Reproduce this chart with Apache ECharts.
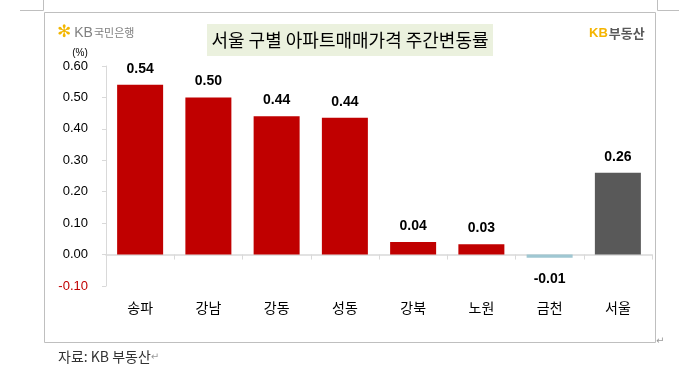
<!DOCTYPE html>
<html><head><meta charset="utf-8">
<script src="https://cdn.jsdelivr.net/npm/echarts@6/dist/echarts.min.js"></script>
<style>html,body{margin:0;padding:0;background:#fff}#c{width:679px;height:375px}</style>
</head><body><div id="c"></div>
<script>
const categories = ['송파','강남','강동','성동','강북','노원','금천','서울'];
const values = [0.54, 0.50, 0.44, 0.435, 0.04, 0.033, -0.01, 0.26];
const valueLabels = ['0.54','0.50','0.44','0.44','0.04','0.03','-0.01','0.26'];
const barColors = ['#C00000','#C00000','#C00000','#C00000','#C00000','#C00000','#9FC7D2','#595959'];
const yTicks = [-0.1, 0, 0.1, 0.2, 0.3, 0.4, 0.5, 0.6];

const chart = echarts.init(document.getElementById('c'));
const KR = '"Noto Sans CJK KR", "Noto Sans", sans-serif';
chart.setOption({
  animation: false,
  grid: {left: 106, right: 27, top: 66, bottom: 89},
  xAxis: {
    type: 'category', data: categories,
    axisLine: {onZero: true, lineStyle: {color: '#D9D9D9', width: 1.5}},
    axisTick: {show: true, length: 5, lineStyle: {color: '#D9D9D9'}},
    axisLabel: {margin: 15, fontSize: 14, color: '#000', fontFamily: KR}
  },
  yAxis: {
    type: 'value', min: -0.1, max: 0.6, interval: 0.1,
    splitLine: {show: false},
    axisLine: {show: true, lineStyle: {color: '#D9D9D9', width: 1}},
    axisTick: {show: true, length: 4, lineStyle: {color: '#D9D9D9'}},
    axisLabel: {
      margin: 18, fontSize: 13, fontFamily: 'Liberation Sans, Arial, sans-serif',
      formatter: v => { const t = yTicks.find(x => Math.abs(x - v) < 1e-9); return (t === undefined ? v : t).toFixed(2); },
      color: v => (v < 0 ? '#C00000' : '#000')
    }
  },
  series: [{
    type: 'bar', barWidth: 46,
    data: values.map((v, i) => ({
      value: v,
      itemStyle: {color: barColors[i]},
      label: {position: v < 0 ? 'bottom' : 'top', distance: v < 0 ? 14 : 9}
    })),
    label: {
      show: true, fontSize: 14, fontWeight: 'bold', color: '#000',
      fontFamily: 'Liberation Sans, Arial, sans-serif',
      formatter: p => valueLabels[p.dataIndex]
    }
  }],
  graphic: [
    {type: 'rect', shape: {x: 44.5, y: 12.5, width: 611, height: 330}, style: {fill: 'none', stroke: '#BFBFBF', lineWidth: 1}, silent: true, z: -1},
    {type: 'line', shape: {x1: 20, y1: 10.5, x2: 43.5, y2: 10.5}, style: {stroke: '#BFBFBF'}},
    {type: 'line', shape: {x1: 43.5, y1: 0, x2: 43.5, y2: 10.5}, style: {stroke: '#BFBFBF'}},
    {type: 'line', shape: {x1: 657.5, y1: 10.5, x2: 679, y2: 10.5}, style: {stroke: '#BFBFBF'}},
    {type: 'line', shape: {x1: 657.5, y1: 0, x2: 657.5, y2: 10.5}, style: {stroke: '#BFBFBF'}},
    {type: 'rect', shape: {x: 207, y: 24, width: 286, height: 32}, style: {fill: '#EBF1DE'}, z: -1},
    {type: 'text', x: 350, y: 40, style: {text: '서울 구별 아파트매매가격 주간변동률', font: '18px ' + KR, fill: '#000', textAlign: 'center', textVerticalAlign: 'middle'}},
    {type: 'text', x: 57, y: 33, style: {
      text: '{s|✻}{k|KB}{b|국민은행}',
      textVerticalAlign: 'middle',
      rich: {
        s: {fontSize: 17, fill: '#F2B600', fontFamily: 'DejaVu Sans', fontWeight: 'bold'},
        k: {fontSize: 14, fill: '#808080', fontFamily: 'Liberation Sans', padding: [0, 1, 0, 3]},
        b: {fontSize: 11, fill: '#808080', fontFamily: KR}
      }
    }},
    {type: 'text', x: 589, y: 33, style: {
      text: '{k|KB}{b|부동산}',
      textVerticalAlign: 'middle',
      rich: {
        k: {fontSize: 13, fill: '#F5B400', fontFamily: 'Liberation Sans', fontWeight: 'bold', padding: [0, 1, 0, 0]},
        b: {fontSize: 13, fill: '#595959', fontFamily: KR, fontWeight: 'bold'}
      }
    }},
    {type: 'text', x: 80, y: 53, style: {text: '(%)', font: '10px Liberation Sans', fill: '#000', textAlign: 'center', textVerticalAlign: 'middle'}},
    {type: 'text', x: 58, y: 357, style: {
      text: '{a|자료: KB 부동산}{r|↵}', textVerticalAlign: 'middle',
      rich: {a: {fontSize: 14, fill: '#333', fontFamily: KR}, r: {fontSize: 10, fill: '#999', fontFamily: 'DejaVu Sans'}}
    }},
    {type: 'text', x: 656, y: 341, style: {text: '↵', font: '10px DejaVu Sans', fill: '#999', textVerticalAlign: 'middle'}}
  ]
});
</script></body></html>
